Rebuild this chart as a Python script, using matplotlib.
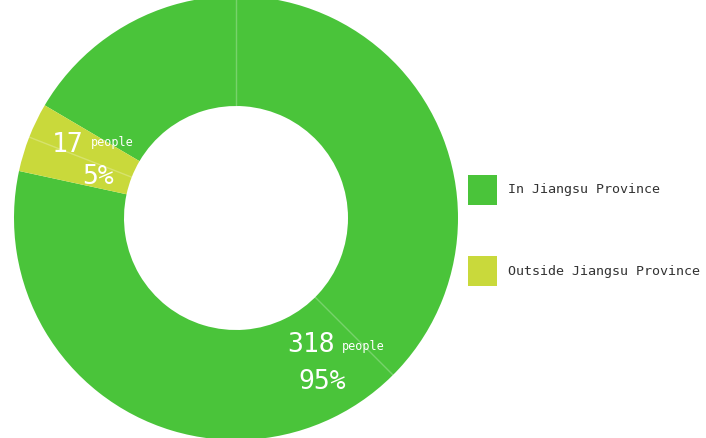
import matplotlib
matplotlib.use("Agg")
import matplotlib.pyplot as plt
from matplotlib.patches import Rectangle
import numpy as np

categories = ["In Jiangsu Province", "Outside Jiangsu Province"]
values = [318, 17]
unit = "people"
colors = ["#4ac43a", "#c9d93b"]

W, H = 706, 438
fig = plt.figure(figsize=(W / 100, H / 100), dpi=100)
ax = fig.add_axes([0, 0, 1, 1])

cx, cy = 236, H - 218
R, r_in = 222, 112
start = 149.5
ax.pie(values, colors=colors, startangle=start, counterclock=False,
       radius=R, center=(cx, cy), frame=True,
       wedgeprops=dict(width=R - r_in, linewidth=0))
ax.set_xlim(0, W)
ax.set_ylim(0, H)
ax.set_aspect("equal")
ax.axis("off")

# faint guide lines
total = sum(values)
yellow_mid = start + 360 * values[1] / total / 2
for ang in [90, -45, yellow_mid]:
    a = np.deg2rad(ang)
    ax.plot([cx + r_in * np.cos(a), cx + R * np.cos(a)],
            [cy + r_in * np.sin(a), cy + R * np.sin(a)],
            color="white", alpha=0.25, lw=1)

mono = "DejaVu Sans Mono"
# green label
ax.text(335, H - 352, f"{values[0]}", color="white", fontsize=19, family=mono,
        ha="right", va="baseline")
ax.text(342, H - 350, unit, color="white", fontsize=8.5, family=mono,
        ha="left", va="baseline")
ax.text(322, H - 389, f"{round(values[0] / total * 100)}%", color="white",
        fontsize=19, family=mono, ha="center", va="baseline")
# yellow label
ax.text(84, H - 152, f"{values[1]}", color="white", fontsize=19, family=mono,
        ha="right", va="baseline")
ax.text(91, H - 146, unit, color="white", fontsize=8.5, family=mono,
        ha="left", va="baseline")
ax.text(98, H - 184, f"{round(values[1] / total * 100)}%", color="white",
        fontsize=19, family=mono, ha="center", va="baseline")

# legend
leg_y = [190, 271]
for cat, col, y in zip(categories, colors, leg_y):
    ax.add_patch(Rectangle((468, H - y - 15), 29, 30, color=col, lw=0))
    ax.text(508, H - y, cat, color="#333333", fontsize=9.6, family=mono,
            ha="left", va="center")

fig.savefig("out.png", dpi=100, facecolor="white")
